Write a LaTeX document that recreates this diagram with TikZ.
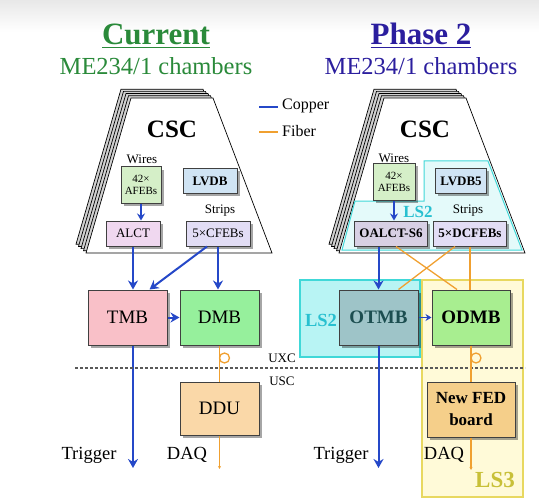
\documentclass[tikz,border=0pt]{standalone}
\usepackage{fontspec}
\setmainfont{Liberation Serif}
\usetikzlibrary{shadows,arrows.meta,calc}
\definecolor{copperc}{HTML}{2548C8}
\definecolor{fiberc}{HTML}{F0A030}
\definecolor{curgreen}{HTML}{2A8A3A}
\definecolor{phaseblue}{HTML}{2B1E9E}
\definecolor{afebc}{HTML}{D5EFC8}
\definecolor{lvdbc}{HTML}{D0E4F4}
\definecolor{alctc}{HTML}{F0D8F0}
\definecolor{cfebc}{HTML}{E2DDF5}
\definecolor{oalctc}{HTML}{D8D0E4}
\definecolor{tmbc}{HTML}{F9C0C8}
\definecolor{dmbc}{HTML}{96F09C}
\definecolor{odmbc}{HTML}{A8EE90}
\definecolor{dduc}{HTML}{FAD8A8}
\definecolor{fedc}{HTML}{F5CF8A}
\definecolor{otmbc}{HTML}{9EC4C8}
\definecolor{otmbtext}{HTML}{1C4E50}
\definecolor{ls2fill}{HTML}{B8F4F4}
\definecolor{ls2border}{HTML}{40D8D8}
\definecolor{ls2text}{HTML}{28C0D0}
\definecolor{cscfill}{HTML}{E4FAFA}
\definecolor{ls3fill}{HTML}{FFFAD8}
\definecolor{ls3border}{HTML}{E8D860}
\definecolor{ls3text}{HTML}{C8C038}
\newcommand{\fsz}[2]{\fontsize{#1}{#2}\selectfont}
\begin{document}
\begin{tikzpicture}[x=1pt,y=-1pt,
  box/.style={draw=black!75, line width=1pt, inner sep=0pt, align=center,
    drop shadow={shadow xshift=2.5pt, shadow yshift=-2.5pt, opacity=0.35, fill=black}},
  smallbox/.style={box, minimum height=25pt, font=\fsz{13}{14}},
  bigbox/.style={box, minimum width=79pt, minimum height=55pt, font=\fsz{19}{21}},
  lbl/.style={inner sep=0pt, font=\fsz{13}{14}},
  bottomlbl/.style={inner sep=0pt, font=\fsz{18.5}{20}},
  copper/.style={draw=copperc, line width=2pt, -{Stealth[length=9pt,width=10pt]}},
  fiber/.style={draw=fiberc, line width=1.3pt},
  fiberarrow/.style={fiber, -{Stealth[length=3pt,width=3pt]}},
  layer/.style={draw=black, line width=0.7pt},
  dotline/.style={draw=black!65, line width=1.8pt, dash pattern=on 2.5pt off 2.5pt}
]
\useasboundingbox (0,0) rectangle (539,503);
\shade[top color=black!9, bottom color=white] (0,0) rectangle (539,32);

% titles
\node[anchor=base, inner sep=0pt, font=\fsz{31}{34}\bfseries, text=curgreen] (curT) at (156,45) {\underline{Current}};
\node[anchor=base, inner sep=0pt, font=\fsz{24.5}{28}, text=curgreen] (curS) at (156,75) {ME234/1 chambers};
\node[anchor=base, inner sep=0pt, font=\fsz{31}{34}\bfseries, text=phaseblue] (phT) at (421,45) {\underline{Phase 2}};
\node[anchor=base, inner sep=0pt, font=\fsz{24.5}{28}, text=phaseblue] (phS) at (421,75) {ME234/1 chambers};

% legend
\coordinate (legCa) at (259,107); \coordinate (legCb) at (278,107);
\coordinate (legFa) at (259,132); \coordinate (legFb) at (278,132);
\draw[draw=copperc, line width=2pt] (legCa) -- (legCb);
\draw[fiber, line width=1.6pt] (legFa) -- (legFb);
\node[anchor=west, inner sep=0pt, font=\fsz{16}{18}] (legC) at (282,106) {Copper};
\node[anchor=west, inner sep=0pt, font=\fsz{16}{18}] (legF) at (282,131) {Fiber};

% LS regions (right, bottom)
\node[draw=ls3border, fill=ls3fill, line width=1.2pt, minimum width=101pt, minimum height=217pt, inner sep=0pt] (ls3box) at (472.5,388.5) {};
\node[draw=ls2border, fill=ls2fill, line width=1.2pt, minimum width=120pt, minimum height=77pt, inner sep=0pt] (ls2box) at (360,318.5) {};

% CSC stacks
\foreach \sx in {0,253}{
  \begin{scope}[shift={(\sx,0)}]
    \foreach \k in {4,3,2,1}{
      \begin{scope}[shift={(-2.5*\k,-2.2*\k)}]
        \draw[layer, fill=black!18] (131,98) -- (213,98) -- (272,253) -- (86,253) -- cycle;
      \end{scope}
    }
    \draw[layer, fill=white] (131,98) -- (213,98) -- (272,253) -- (86,253) -- cycle;
  \end{scope}
}
% LS2 region inside right CSC
\draw[draw=ls2border, fill=cscfill, line width=1pt] (424,161) -- (488,161) -- (522,250) -- (342,250) -- (355,201) -- (424,201) -- cycle;

% CSC labels
\node[anchor=base, inner sep=0pt, font=\fsz{25}{27}\bfseries] (cscL) at (172,138) {CSC};
\node[anchor=base, inner sep=0pt, font=\fsz{25}{27}\bfseries] (cscR) at (425,138) {CSC};

% ---------- left (Current) ----------
\node[lbl] (wiresL) at (142,159) {Wires};
\node[box, fill=afebc, minimum width=40pt, minimum height=36pt, font=\fsz{11}{12.5}] (afebL) at (141,185) {42×\\AFEBs};
\node[smallbox, fill=lvdbc, minimum width=54pt, font=\fsz{13}{14}\bfseries] (lvdbL) at (210,181) {LVDB};
\node[lbl] (stripsL) at (220,211) {Strips};
\node[smallbox, fill=alctc, minimum width=54pt] (alctL) at (133,233.5) {ALCT};
\node[smallbox, fill=cfebc, minimum width=64pt] (cfebL) at (218,233.5) {5×CFEBs};
\node[bigbox, fill=tmbc] (tmb) at (127.5,317.5) {TMB};
\node[bigbox, fill=dmbc] (dmb) at (219.5,317.5) {DMB};
\node[bigbox, fill=dduc, minimum height=53pt] (ddu) at (219.5,408.5) {DDU};
\node[bottomlbl] (trigL) at (89,455) {Trigger};
\node[bottomlbl] (daqL) at (187,455) {DAQ};

\draw[copper, line width=1.6pt, -{Stealth[length=7pt,width=8pt]}] (afebL.south) -- (afebL.south |- alctL.north);
\draw[copper] (alctL.south) -- (alctL.south |- tmb.north);
\draw[copper] (cfebL.south) -- (cfebL.south |- dmb.north);
\draw[copper] ([xshift=-11pt]cfebL.south) -- ([xshift=22pt]tmb.north);
\draw[copper] (tmb) -- (dmb);
\coordinate (trigLend) at (133,468);
\draw[copper] (alctL.south |- tmb.south) -- (trigLend);
\draw[fiber] (dmb) -- (ddu);
\draw[fiber] (224.5,358) circle[radius=5];
\coordinate (daqLend) at (219.5,469);
\draw[fiberarrow] (ddu) -- (daqLend);

% UXC / USC
\coordinate (dotA) at (75,368); \coordinate (dotB) at (525,368);
\draw[dotline] (dotA) -- (dotB);
\node[inner sep=0pt, font=\fsz{13}{14}] (uxc) at (282,358) {UXC};
\node[inner sep=0pt, font=\fsz{13}{14}] (usc) at (282,381) {USC};

% ---------- right (Phase 2) ----------
\node[lbl] (wiresR) at (394,158) {Wires};
\node[box, fill=afebc, minimum width=42pt, minimum height=36pt, font=\fsz{11}{12.5}] (afebR) at (394,182) {42×\\AFEBs};
\node[smallbox, fill=lvdbc, minimum width=51pt, font=\fsz{13}{14}\bfseries] (lvdbR) at (461,181) {LVDB5};
\node[inner sep=0pt, font=\fsz{17}{18}\bfseries, text=ls2text] (ls2a) at (418,212) {LS2};
\node[lbl] (stripsR) at (468,211) {Strips};
\node[smallbox, fill=oalctc, minimum width=73pt, font=\fsz{13}{14}\bfseries] (oalct) at (391,233.5) {OALCT-S6};
\node[smallbox, fill=cfebc, minimum width=73pt, font=\fsz{13}{14}\bfseries] (dcfeb) at (470,233.5) {5×DCFEBs};
\node[bigbox, fill=otmbc, text=otmbtext, font=\fsz{19}{21}\bfseries] (otmb) at (378.5,317.5) {OTMB};
\node[bigbox, fill=odmbc, minimum width=78pt, font=\fsz{19}{21}\bfseries] (odmb) at (471,317.5) {ODMB};
\node[bigbox, fill=fedc, minimum width=88pt, font=\fsz{17}{22}\bfseries] (fed) at (471,409.5) {New FED\\board};
\node[inner sep=0pt, font=\fsz{18.5}{20}\bfseries, text=ls2text] (ls2b) at (321,320) {LS2};
\node[inner sep=0pt, font=\fsz{23}{25}\bfseries, text=ls3text] (ls3) at (495,480) {LS3};
\node[bottomlbl] (trigR) at (341,455) {Trigger};
\node[bottomlbl] (daqR) at (444,455) {DAQ};

\draw[copper, line width=1.6pt, -{Stealth[length=7pt,width=8pt]}] (afebR.south) -- (afebR.south |- oalct.north);
\draw[copper] (otmb.north |- oalct.south) -- (otmb.north);
\draw[fiber] ([xshift=5pt]oalct.south) -- ([xshift=-14pt]odmb.north);
\draw[fiber] ([xshift=-15pt]dcfeb.south) -- ([xshift=20pt]otmb.north);
\draw[fiber] (dcfeb.south) -- (dcfeb.south |- odmb.north);
\draw[copper, line width=1.6pt, -{Stealth[length=6pt,width=7pt]}] (otmb) -- (odmb);
\coordinate (trigRend) at (378.5,468);
\draw[copper] (otmb.south) -- (trigRend);
\draw[fiber] (odmb) -- (fed);
\draw[fiber] (476,358) circle[radius=5];
\coordinate (daqRend) at (471,470);
\draw[fiberarrow] (fed) -- (daqRend);
\end{tikzpicture}
\end{document}
